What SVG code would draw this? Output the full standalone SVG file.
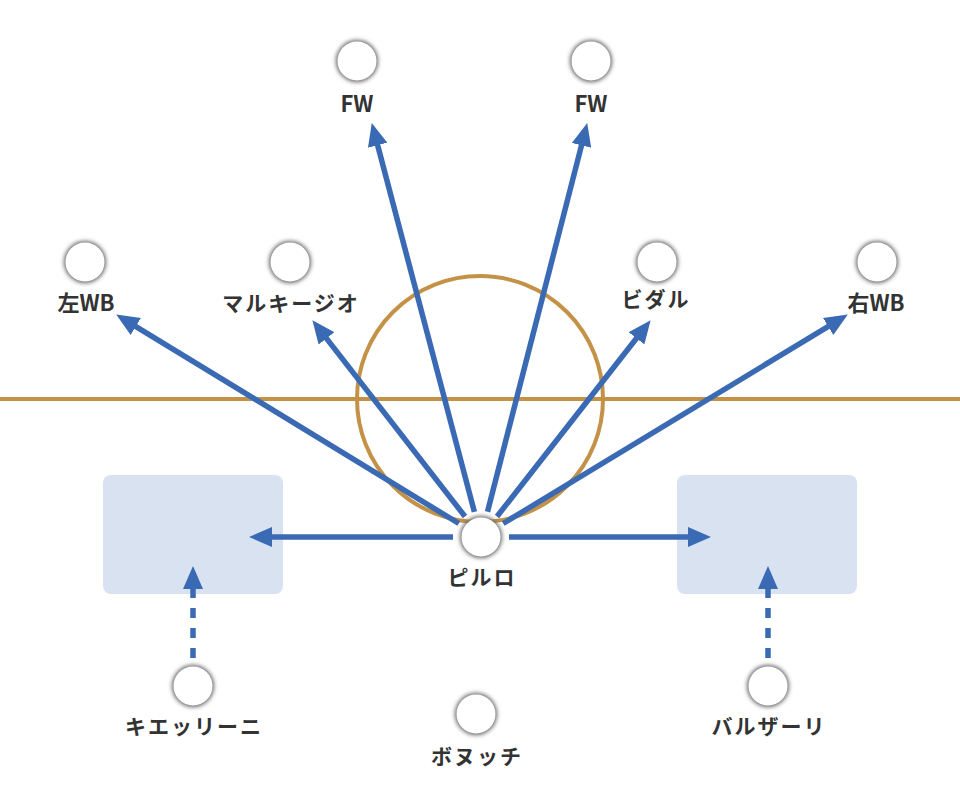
<svg xmlns="http://www.w3.org/2000/svg" width="960" height="800" viewBox="0 0 960 800">
<defs>
<style>
.lbl{font-family:"Noto Sans CJK JP","Noto Sans",sans-serif;font-weight:700;font-size:21px;fill:#333;text-anchor:middle;letter-spacing:2px}
.lat{font-size:22px;letter-spacing:0}
.node-shadow{fill:#666;filter:url(#blur)}
.node{fill:#fff}
.arr{stroke:#3b6ab4;stroke-width:5.5;fill:none;marker-end:url(#ah)}
.dash{stroke-dasharray:10 10}
.zone{fill:#d8e2f1}
.gold{stroke:#c39246;stroke-width:4;fill:none}
</style>
<filter id="blur" x="-50%" y="-50%" width="200%" height="200%"><feGaussianBlur stdDeviation="2.3"/></filter>
<marker id="ah" markerUnits="userSpaceOnUse" markerWidth="24" markerHeight="20" viewBox="0 0 24 20" refX="8" refY="10" orient="auto"><path d="M0,0 L23,10 L0,20 z" fill="#3b6ab4"/></marker>
</defs>
<rect width="960" height="800" fill="#fff"/>
<g id="zones">
<rect class="zone" x="103" y="475" width="180" height="119" rx="8"/>
<rect class="zone" x="677" y="475" width="180" height="119" rx="8"/>
</g>
<g id="field">
<line class="gold" x1="0" y1="399" x2="960" y2="399"/>
<circle class="gold" cx="480" cy="399" r="123"/>
</g>
<g id="connectors">
<line class="arr" x1="474.4" y1="511.9" x2="375.6" y2="137.5"/>
<line class="arr" x1="487.5" y1="511.8" x2="583.5" y2="137.6"/>
<line class="arr" x1="458.8" y1="523.5" x2="129" y2="322.3"/>
<line class="arr" x1="465" y1="516.5" x2="321.6" y2="332.1"/>
<line class="arr" x1="497" y1="516.5" x2="641.4" y2="332"/>
<line class="arr" x1="503.2" y1="523.5" x2="835" y2="322.3"/>
<line class="arr" x1="453" y1="537" x2="264" y2="537"/>
<line class="arr" x1="509" y1="537" x2="696" y2="537"/>
<line class="arr dash" x1="193" y1="658" x2="193" y2="581"/>
<line class="arr dash" x1="768" y1="658" x2="768" y2="581"/>
</g>
<g id="n-fw1"><circle class="node-shadow" cx="357" cy="61" r="21"/><circle class="node" cx="357" cy="61" r="19.5"/><text class="lbl lat" x="357" y="112">FW</text></g>
<g id="n-fw2"><circle class="node-shadow" cx="591" cy="61" r="21"/><circle class="node" cx="591" cy="61" r="19.5"/><text class="lbl lat" x="591" y="112">FW</text></g>
<g id="n-lwb"><circle class="node-shadow" cx="85" cy="262" r="21"/><circle class="node" cx="85" cy="262" r="19.5"/><text class="lbl lat" x="86" y="311">左WB</text></g>
<g id="n-marchisio"><circle class="node-shadow" cx="290" cy="262" r="21"/><circle class="node" cx="290" cy="262" r="19.5"/><text class="lbl" x="291" y="311">マルキージオ</text></g>
<g id="n-vidal"><circle class="node-shadow" cx="657" cy="262" r="21"/><circle class="node" cx="657" cy="262" r="19.5"/><text class="lbl" x="656" y="307">ビダル</text></g>
<g id="n-rwb"><circle class="node-shadow" cx="877" cy="262" r="21"/><circle class="node" cx="877" cy="262" r="19.5"/><text class="lbl lat" x="876" y="311">右WB</text></g>
<g id="n-pirlo"><circle class="node-shadow" cx="481" cy="537" r="21"/><circle class="node" cx="481" cy="537" r="19.5"/><text class="lbl" x="482" y="585">ピルロ</text></g>
<g id="n-chiellini"><circle class="node-shadow" cx="193" cy="686" r="21"/><circle class="node" cx="193" cy="686" r="19.5"/><text class="lbl" x="194" y="734">キエッリーニ</text></g>
<g id="n-bonucci"><circle class="node-shadow" cx="476" cy="714" r="21"/><circle class="node" cx="476" cy="714" r="19.5"/><text class="lbl" x="477" y="764">ボヌッチ</text></g>
<g id="n-barzagli"><circle class="node-shadow" cx="768" cy="686" r="21"/><circle class="node" cx="768" cy="686" r="19.5"/><text class="lbl" x="769" y="734">バルザーリ</text></g>
</svg>
